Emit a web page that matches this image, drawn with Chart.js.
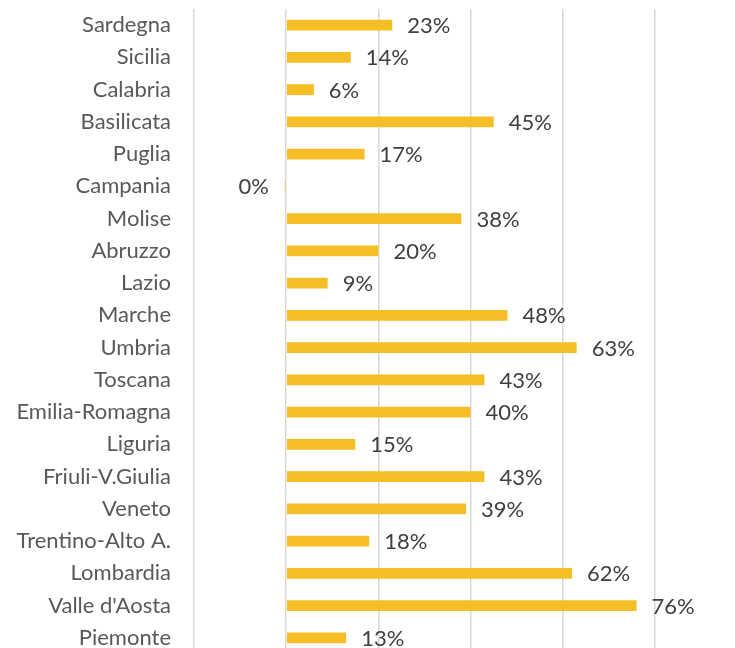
<!DOCTYPE html>
<html>
<head>
<meta charset="utf-8">
<script src="https://cdn.jsdelivr.net/npm/chart.js@4"></script>
<style>
  html, body { margin: 0; padding: 0; background: #fff; overflow: hidden; }
  #wrap { width: 735px; height: 664px; position: relative; }
</style>
</head>
<body>
<div id="wrap"><canvas id="regionChart"></canvas></div>
<script>
const regions = ['Sardegna', 'Sicilia', 'Calabria', 'Basilicata', 'Puglia', 'Campania', 'Molise', 'Abruzzo',
    'Lazio', 'Marche', 'Umbria', 'Toscana', 'Emilia-Romagna', 'Liguria', 'Friuli-V.Giulia', 'Veneto',
    'Trentino-Alto A.', 'Lombardia', "Valle d'Aosta", 'Piemonte'];
const shares = [23, 14, 6, 45, 17, -0.3, 38, 20, 9, 48, 63, 43, 40, 15, 43, 39, 18, 62, 76, 13];
const axisMin = -20;
const axisMax = 80;
const axisStep = 20;

const fontFamily = "Lato, 'Liberation Sans', sans-serif";

// labels at the end of each bar, like the spreadsheet "outside end" labels
const barLabels = {
    id: 'barLabels',
    afterDatasetsDraw(chart) {
        const ctx = chart.ctx;
        const meta = chart.getDatasetMeta(0);
        ctx.save();
        ctx.font = '22px ' + fontFamily;
        ctx.fillStyle = '#404040';
        ctx.textBaseline = 'middle';
        meta.data.forEach((bar, i) => {
            const v = shares[i];
            const txt = Math.round(v) + '%';
            if (v >= 0) {
                ctx.textAlign = 'left';
                ctx.fillText(txt, bar.x + 15, bar.y + 1);
            } else {
                ctx.textAlign = 'right';
                ctx.fillText(txt, bar.x - 16, bar.y + 1);
            }
        });
        ctx.restore();
    }
};

const ctx = document.getElementById('regionChart').getContext('2d');
new Chart(ctx, {
    type: 'bar',
    data: {
        labels: regions,
        datasets: [{
            data: shares,
            backgroundColor: '#F6BE26',
            barPercentage: 0.34,
            categoryPercentage: 1
        }]
    },
    options: {
        indexAxis: 'y',
        responsive: true,
        maintainAspectRatio: false,
        animation: false,
        layout: { padding: { top: 9, right: 80, bottom: 10, left: 0 } },
        plugins: {
            legend: { display: false },
            tooltip: { enabled: false }
        },
        scales: {
            x: {
                min: axisMin,
                max: axisMax,
                ticks: { display: false, stepSize: axisStep },
                grid: { color: '#d9d9d9', lineWidth: 1.5, drawTicks: false },
                border: { display: false },
                afterFit(scale) { scale.height = 0; }
            },
            y: {
                grid: { display: false, drawTicks: false },
                border: { display: false },
                ticks: {
                    color: '#595959',
                    padding: 23,
                    font: { family: fontFamily, size: 22 }
                },
                afterFit(scale) {
                    scale.width = 194;
                    scale.paddingTop = 0;
                    scale.paddingBottom = 0;
                }
            }
        }
    },
    plugins: [barLabels]
});
</script>
</body>
</html>
